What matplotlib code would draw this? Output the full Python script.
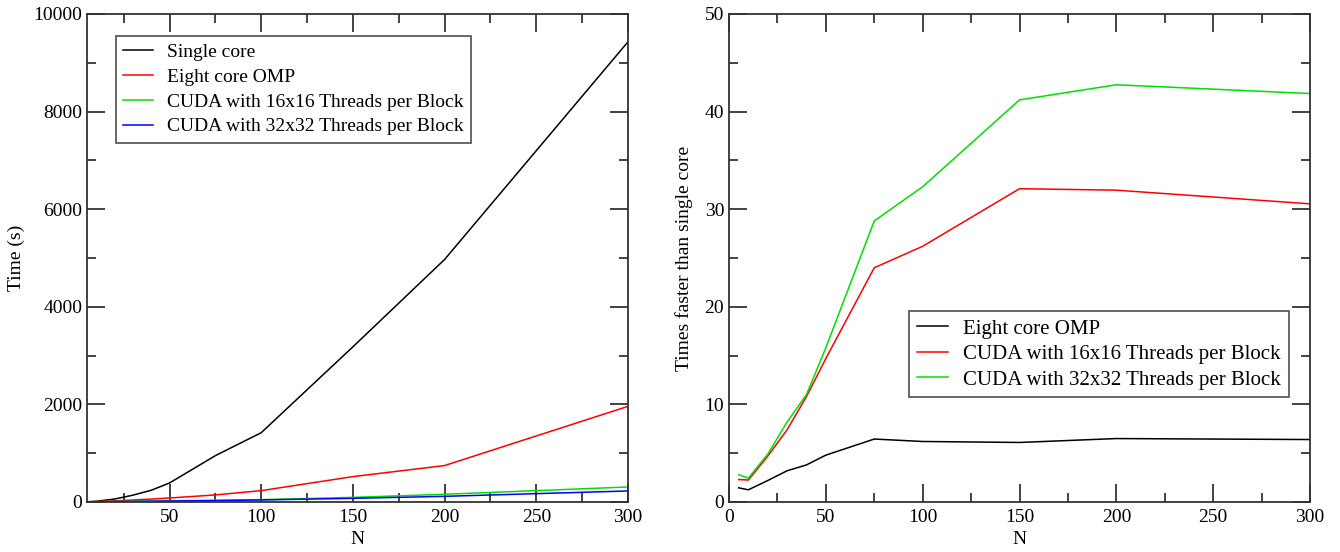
import matplotlib
matplotlib.use('Agg')
import matplotlib.pyplot as plt
from matplotlib.ticker import MultipleLocator

plt.rcParams['font.family'] = ['Liberation Serif', 'DejaVu Serif']
plt.rcParams['font.size'] = 14

# problem sizes
N = [5, 10, 20, 30, 40, 50, 75, 100, 150, 200, 300]

# run times in seconds
single_core = [5, 15, 60, 140, 240, 390, 950, 1420, 3180, 4970, 9430]
omp_eight = [3, 8, 22, 40, 60, 82, 145, 233, 520, 747, 1960]
cuda_16 = [2, 5, 10, 15, 20, 25, 35, 48, 95, 158, 308]
cuda_32 = [2, 4, 8, 12, 16, 20, 28, 42, 75, 116, 226]

# speedup over single core
speed_omp = [1.45, 1.25, 2.2, 3.2, 3.8, 4.8, 6.45, 6.2, 6.1, 6.5, 6.4]
speed_16 = [2.3, 2.25, 4.7, 7.4, 10.8, 14.7, 24.0, 26.2, 32.1, 31.95, 30.55]
speed_32 = [2.8, 2.45, 4.9, 8.2, 11.0, 15.8, 28.8, 32.3, 41.2, 42.75, 41.85]

time_labels = ['Single core', 'Eight core OMP',
               'CUDA with 16x16 Threads per Block', 'CUDA with 32x32 Threads per Block']
speed_labels = ['Eight core OMP', 'CUDA with 16x16 Threads per Block',
                'CUDA with 32x32 Threads per Block']

colors = ['black', '#ff0000', '#00e000', '#0000ff']

fig = plt.figure(figsize=(13.4, 5.52), dpi=100)
ax1 = fig.add_axes([87 / 1340, 50 / 552, 541 / 1340, 488 / 552])
ax2 = fig.add_axes([729 / 1340, 50 / 552, 581 / 1340, 488 / 552])


def style_axes(ax):
    for s in ax.spines.values():
        s.set_linewidth(1.3)
        s.set_color('#333333')
    ax.tick_params(which='both', direction='in', top=True, right=True,
                   width=1.2, color='#222222')
    ax.tick_params(which='major', length=13)
    ax.tick_params(which='minor', length=6.5)
    ax.tick_params(axis='x', pad=5)


def add_legend(ax, anchor, size, spacing):
    leg = ax.legend(loc='upper left', bbox_to_anchor=anchor, borderaxespad=0,
                    fancybox=False, handlelength=1.5, handletextpad=0.72,
                    labelspacing=spacing, borderpad=0.38, fontsize=size)
    leg.get_frame().set_edgecolor('#333333')
    leg.get_frame().set_linewidth(1.3)
    return leg


for y, c, lab in zip([single_core, omp_eight, cuda_16, cuda_32], colors, time_labels):
    ax1.plot(N, y, color=c, lw=1.1, label=lab)
ax1.set_xlim(5, 300)
ax1.set_ylim(0, 10000)
ax1.xaxis.set_major_locator(MultipleLocator(50))
ax1.xaxis.set_minor_locator(MultipleLocator(25))
ax1.yaxis.set_major_locator(MultipleLocator(2000))
ax1.yaxis.set_minor_locator(MultipleLocator(1000))
ax1.set_xlabel('N', labelpad=4)
ax1.set_ylabel('Time (s)', labelpad=6)
style_axes(ax1)
add_legend(ax1, (0.0536, 0.955), 14, 0.37)

for y, c, lab in zip([speed_omp, speed_16, speed_32], colors[:3], speed_labels):
    ax2.plot(N, y, color=c, lw=1.1, label=lab)
ax2.set_xlim(0, 300)
ax2.set_ylim(0, 50)
ax2.xaxis.set_major_locator(MultipleLocator(50))
ax2.xaxis.set_minor_locator(MultipleLocator(25))
ax2.yaxis.set_major_locator(MultipleLocator(10))
ax2.yaxis.set_minor_locator(MultipleLocator(5))
ax2.set_xlabel('N', labelpad=4)
ax2.set_ylabel('Times faster than single core', labelpad=8)
style_axes(ax2)
add_legend(ax2, (0.31, 0.391), 15, 0.28)

fig.savefig('out.png', dpi=100)
